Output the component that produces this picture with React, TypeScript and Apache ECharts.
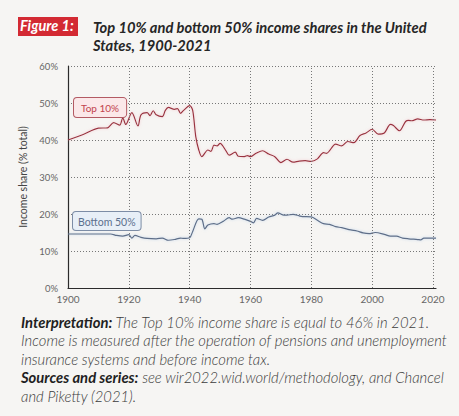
import { useEffect, useRef } from 'react'
import * as echarts from 'echarts'

const topYears = [
  1900, 1905, 1910, 1913, 1915, 1917, 1918, 1919, 1921, 1923, 1924, 1926, 1927, 1928, 1929,
  1931, 1932, 1933, 1935, 1936, 1937, 1938, 1940, 1941, 1942, 1943, 1944, 1946, 1947, 1948,
  1949, 1950, 1952, 1953, 1955, 1956, 1958, 1959, 1960, 1962, 1964, 1966, 1968, 1970, 1972,
  1974, 1976, 1978, 1980, 1982, 1984, 1985, 1988, 1990, 1992, 1994, 1996, 1998, 2000, 2002,
  2004, 2006, 2007, 2009, 2011, 2012, 2013, 2015, 2017, 2019, 2021,
]
const topValues = [
  40.0, 41.5, 43.2, 43.3, 44.7, 44.0, 46.0, 44.2, 47.4, 43.8, 46.8, 47.4, 46.6, 47.9, 46.8,
  46.3, 48.0, 48.8, 48.3, 48.5, 47.2, 48.0, 49.3, 48.0, 41.0, 37.3, 35.5, 37.3, 36.9, 38.6,
  38.4, 39.1, 37.0, 35.9, 36.7, 35.6, 35.5, 35.8, 35.5, 36.5, 37.1, 36.2, 35.5, 33.9, 34.8,
  34.0, 34.3, 34.4, 34.2, 34.9, 36.6, 36.4, 38.9, 38.4, 39.6, 39.3, 41.2, 41.9, 42.9, 41.6,
  41.9, 44.2, 43.9, 42.5, 45.0, 45.3, 45.2, 45.7, 45.4, 45.5, 45.4,
]

const bottomYears = [
  1900, 1910, 1914, 1916, 1918, 1920, 1921, 1922, 1924, 1926, 1929, 1931, 1933, 1935, 1937,
  1938, 1940, 1941, 1943, 1944, 1945, 1946, 1948, 1949, 1951, 1953, 1954, 1956, 1958, 1960,
  1961, 1962, 1964, 1966, 1968, 1969, 1971, 1972, 1974, 1976, 1977, 1980, 1982, 1984, 1986,
  1988, 1990, 1993, 1995, 1997, 1999, 2001, 2004, 2006, 2008, 2010, 2012, 2015, 2016, 2017,
  2021,
]
const bottomValues = [
  14.6, 14.6, 14.6, 14.2, 14.0, 14.4, 13.5, 14.2, 13.7, 13.4, 13.3, 13.5, 12.9, 13.1, 13.5,
  13.4, 13.6, 15.3, 18.7, 18.6, 16.0, 17.0, 17.4, 17.2, 18.0, 19.0, 18.6, 19.0, 18.6, 18.0,
  17.6, 18.8, 18.3, 19.2, 19.7, 20.3, 19.7, 19.7, 19.9, 19.5, 19.3, 19.2, 18.3, 17.4, 17.2,
  16.6, 16.3, 15.7, 15.4, 14.9, 14.7, 15.0, 14.5, 14.0, 14.0, 13.5, 13.3, 13.1, 13.0, 13.5,
  13.5,
]

const xGridYears = [1920, 1940, 1960, 1980, 2000, 2020]

const titleLines = ['Top 10% and bottom 50% income shares in the United', 'States, 1900-2021']
const noteLines = [
  '{b|Interpretation:} The Top 10% income share is equal to 46% in 2021.',
  'Income is measured after the operation of pensions and unemployment',
  'insurance systems and before income tax.',
  '{b|Sources and series:} see wir2022.wid.world/methodology, and Chancel',
  'and Piketty (2021).',
]

const FONT = 'Lato, "Open Sans", sans-serif'
const NOTE_SIZE = 14.8

export default function App() {
  const chartRef = useRef<HTMLDivElement | null>(null)

  useEffect(() => {
    if (!chartRef.current) {
      return
    }
    const chart = echarts.init(chartRef.current, undefined, { renderer: 'svg' })

    // bold lead-in for the footnote lines
    const noteRich = {
      b: { fontFamily: FONT, fontSize: NOTE_SIZE, fontStyle: 'italic', fontWeight: 'bold', fill: '#1f1f1f' },
    }

    chart.setOption({
      animation: false,
      backgroundColor: '#f6f5f3',
      textStyle: { fontFamily: FONT },
      grid: { left: 68, right: 23, top: 66, bottom: 128 },
      xAxis: {
        type: 'value',
        min: 1900,
        max: 2021,
        interval: 20,
        axisLine: { lineStyle: { color: '#2b2b2b', width: 1.2 } },
        axisTick: { show: false },
        splitLine: { show: false },
        axisLabel: {
          color: '#666',
          fontSize: 10,
          margin: 6,
          showMaxLabel: false,
          formatter: (v: number) => (v % 20 === 0 ? String(v) : ''),
        },
      },
      yAxis: {
        type: 'value',
        min: 0,
        max: 60,
        interval: 10,
        name: 'Income share (% total)',
        nameLocation: 'middle',
        nameGap: 35,
        nameTextStyle: { color: '#444', fontSize: 10.5 },
        axisLine: { show: true, lineStyle: { color: '#2b2b2b', width: 1.2 } },
        axisTick: { show: false },
        axisLabel: { color: '#666', fontSize: 9.5, margin: 10, formatter: '{value}%' },
        splitLine: { lineStyle: { color: '#777', type: [1, 2], width: 1 } },
      },
      series: [
        {
          name: 'Top 10%',
          type: 'line',
          smooth: 0.3,
          showSymbol: false,
          data: topYears.map((y, i) => [y, topValues[i]]),
          lineStyle: {
            color: '#9a3340',
            width: 1.2,
            shadowColor: 'rgba(240, 160, 170, 0.55)',
            shadowBlur: 3,
          },
          markLine: {
            silent: true,
            symbol: ['none', 'none'],
            label: { show: false },
            lineStyle: { color: '#777', type: [1, 2], width: 1 },
            data: xGridYears.map((y) => ({ xAxis: y })),
          },
          z: 3,
        },
        {
          name: 'Bottom 50%',
          type: 'line',
          smooth: 0.3,
          showSymbol: false,
          data: bottomYears.map((y, i) => [y, bottomValues[i]]),
          lineStyle: {
            color: '#5e6e88',
            width: 1.2,
            shadowColor: 'rgba(150, 185, 225, 0.55)',
            shadowBlur: 3,
          },
          z: 3,
        },
      ],
      graphic: [
        {
          type: 'rect',
          left: 18,
          top: 17,
          shape: { width: 60, height: 19 },
          style: { fill: '#d32a33' },
        },
        {
          type: 'text',
          left: 20,
          top: 18,
          style: {
            text: 'Figure 1:',
            fontFamily: FONT,
            fontSize: 14.5,
            fontStyle: 'italic',
            fontWeight: 'bold',
            fill: '#ffffff',
          },
        },
        ...titleLines.map((t, i) => ({
          type: 'text',
          left: 93,
          top: 19 + i * 18,
          style: {
            text: t,
            fontFamily: FONT,
            fontSize: 14.7,
            fontStyle: 'italic',
            fontWeight: 'bold',
            fill: '#262626',
          },
        })),
        {
          type: 'text',
          left: 73,
          top: 97,
          style: {
            text: 'Top 10%',
            fontFamily: FONT,
            fontSize: 10,
            fill: '#c2434d',
            backgroundColor: '#fbe8e9',
            borderColor: '#b35a63',
            borderWidth: 1,
            borderRadius: 3,
            padding: [5, 7, 4, 7],
          },
          z: 10,
        },
        {
          type: 'text',
          left: 72,
          top: 211,
          style: {
            text: 'Bottom 50%',
            fontFamily: FONT,
            fontSize: 10.5,
            fill: '#5c6f8e',
            backgroundColor: '#e8eff7',
            borderColor: '#7d8da6',
            borderWidth: 1,
            borderRadius: 3,
            padding: [4, 5, 3, 5],
          },
          z: 10,
        },
        ...noteLines.map((t, i) => ({
          type: 'text',
          left: 21,
          top: 314 + i * 18.5,
          style: {
            text: t,
            fontFamily: FONT,
            fontSize: NOTE_SIZE,
            fontStyle: 'italic',
            fontWeight: 300,
            fill: '#3c3c3c',
            rich: { ...noteRich },
          },
        })),
      ],
    })

    return () => {
      chart.dispose()
    }
  }, [])

  return (
    <div
      ref={chartRef}
      style={{ position: 'fixed', left: 0, top: 0, width: 459, height: 416 }}
    />
  )
}
